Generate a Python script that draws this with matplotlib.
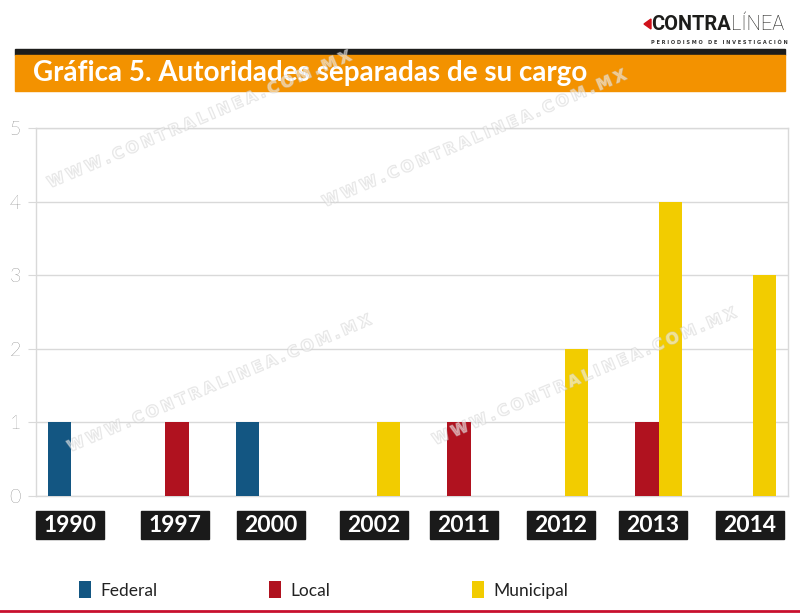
import matplotlib
matplotlib.use("Agg")
import matplotlib.pyplot as plt
import matplotlib.patches as mpatches
import matplotlib.transforms as mtransforms
import matplotlib.patheffects as pe
import numpy as np

years = ["1990", "1997", "2000", "2002", "2011", "2012", "2013", "2014"]
federal = [1, 0, 1, 0, 0, 0, 0, 0]
local = [0, 1, 0, 0, 1, 0, 1, 0]
municipal = [0, 0, 0, 1, 0, 2, 4, 3]
series_names = ["Federal", "Local", "Municipal"]
colors = ["#135682", "#B0121F", "#F2CC00"]
title = "Gráfica 5. Autoridades separadas de su cargo"

# styling: horizontal nudge of year label boxes (pixels)
label_shift_px = [-13, -2, 0, 9, 4.5, 7.5, 5.5, 8.5]

W, H = 800, 616
fig = plt.figure(figsize=(W / 100, H / 100), dpi=100)

def fx(px):
    return px / W

def fy(py):
    return 1 - py / H

# header bars
fig.patches.append(mpatches.Rectangle((fx(15), fy(55)), fx(770), 6 / H, transform=fig.transFigure,
                                      color="#1d1d1b", zorder=1))
fig.patches.append(mpatches.Rectangle((fx(15), fy(91)), fx(770), 36 / H, transform=fig.transFigure,
                                      color="#F39200", zorder=1))
fig.text(fx(33), fy(73), title, color="white", fontsize=20, fontweight="bold",
         family="Lato", va="center", ha="left", zorder=5)

# bottom red line
fig.add_artist(plt.Line2D([0, 1], [fy(611), fy(611)], transform=fig.transFigure,
                          color="#C8102E", lw=2))

ax = fig.add_axes([fx(36), fy(496), fx(752), (496 - 128) / H])

# logo
t1 = fig.text(fx(651), fy(24), "CONTRA", family="Roboto", fontweight="bold",
              fontsize=14.4, color="#1d1d1b", va="center", ha="left")
ax.annotate("LÍNEA", xy=(1, 0.5), xycoords=t1, va="center", ha="left", family="Roboto",
            fontweight="light", fontsize=14.4, color="#1d1d1b", annotation_clip=False)
fig.text(fx(651), fy(42), "P E R I O D I S M O   D E   I N V E S T I G A C I Ó N",
         fontsize=3.6, color="#333333", va="center", ha="left", fontweight="bold")
fig.patches.append(mpatches.Polygon([[fx(644), fy(24)], [fx(651), fy(19)], [fx(651), fy(29)]],
                                    closed=True, transform=fig.transFigure, color="#D0121B", zorder=3))

x = np.arange(len(years))
bw = 0.245
bars = []
for i, (vals, c, name) in enumerate(zip([federal, local, municipal], colors, series_names)):
    b = ax.bar(x + (i - 1) * bw, vals, width=bw, color=c, label=name, zorder=3)
    bars.append(b)

ax.set_xlim(-0.5, len(years) - 0.5)
ax.set_ylim(0, 5)
ax.set_yticks(range(0, 6))
ax.set_yticklabels([str(v) for v in range(0, 6)], fontsize=14, color="#333333",
                   family="Lato", fontweight="light")
ax.tick_params(axis="y", length=6, color="#D9D9D9", pad=5)
ax.set_xticks([])
ax.grid(axis="y", color="#D9D9D9", lw=1, zorder=0)
for s in ax.spines.values():
    s.set_color("#D9D9D9")
    s.set_linewidth(1)

# year label boxes
trans = mtransforms.blended_transform_factory(ax.transData, fig.transFigure)
unit_px = 752 / len(years)
bw_box = 68 / unit_px
for xi, yr, sh in zip(x, years, label_shift_px):
    cx = xi + sh / unit_px
    ax.add_patch(mpatches.Rectangle((cx - bw_box / 2, fy(539)), bw_box, 28 / H, transform=trans,
                                    color="#1a1a1a", clip_on=False, zorder=2))
    ax.text(cx, fy(525), yr, transform=trans, ha="center", va="center", color="white",
            fontsize=16.5, fontweight="bold", family="Lato", zorder=3)

# watermarks
wm = "\u2009".join("WWW.CONTRALINEA.COM.MX")
for (px, py) in [(50, 188), (325, 207), (70, 452), (435, 445)]:
    fig.text(fx(px), fy(py), wm, rotation=23, rotation_mode="anchor", ha="left", va="baseline",
             fontsize=11.3, fontweight="bold", color=(1, 1, 1, 0.3), zorder=6,
             path_effects=[pe.withStroke(linewidth=1.0, foreground=(0.8, 0.8, 0.8, 0.5))])

# legend
legend_pos = [80, 270, 473]
for b, name, px in zip(bars, series_names, legend_pos):
    fig.legend(handles=[b], labels=[name], loc="center left",
               bbox_to_anchor=(fx(px - 12) - 0.006, fy(590)), frameon=False,
               handlelength=0.72, handleheight=1.15, handletextpad=0.5,
               labelcolor="#222222",
               prop={"family": "Lato", "size": 12.5})

fig.savefig("out.png", dpi=100)
